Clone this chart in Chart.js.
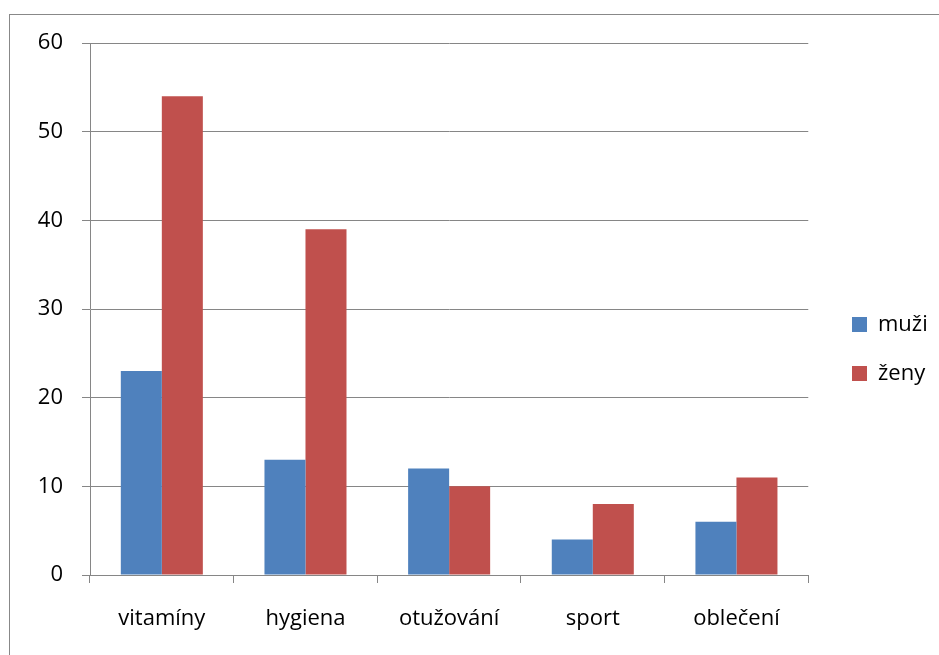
<!DOCTYPE html>
<html>
<head>
<meta charset="utf-8">
<script src="https://cdn.jsdelivr.net/npm/chart.js@4/dist/chart.umd.min.js"></script>
<style>
html, body { margin: 0; padding: 0; background: #fff; overflow: hidden; }
#frame { position: absolute; left: 9px; top: 14px; width: 1000px; height: 1000px; border: 1px solid #888; }
#wrap { position: absolute; left: 0; top: 0; width: 939px; height: 655px; }
</style>
</head>
<body>
<div id="frame"></div>
<div id="wrap"><canvas id="myChart"></canvas></div>
<script>
var categories = ['vitamíny', 'hygiena', 'otužování', 'sport', 'oblečení'];
var muzi = [23, 13, 12, 4, 6];
var zeny = [54, 39, 10, 8, 11];
var yTicks = [0, 10, 20, 30, 40, 50, 60];

var blue = '#4f81bd';
var red = '#c0504d';
var gridColor = '#868686';
var font = { family: 'Open Sans', size: 22 };

// push the legend a bit away from the plot
var legendShift = {
    id: 'legendShift',
    afterLayout: function(chart) {
        var dx = 852 - (chart.legend.left + chart.legend.options.labels.padding);
        chart.legend.left += dx;
        chart.legend.right += dx;
    }
};

var ctx = document.getElementById('myChart').getContext('2d');
var chart = new Chart(ctx, {
    type: 'bar',
    data: {
        labels: categories,
        datasets: [
            { label: 'muži', data: muzi, backgroundColor: blue },
            { label: 'ženy', data: zeny, backgroundColor: red }
        ]
    },
    plugins: [legendShift],
    options: {
        responsive: true,
        maintainAspectRatio: false,
        animation: false,
        layout: { padding: { top: 43, left: 0, right: 18, bottom: 0 } },
        datasets: { bar: { categoryPercentage: 0.571, barPercentage: 1 } },
        scales: {
            x: {
                offset: true,
                grid: { display: true, drawOnChartArea: false, offset: true, color: gridColor, tickLength: 8 },
                border: { color: gridColor },
                ticks: { color: '#000', font: font, padding: 23, maxRotation: 0 },
                afterFit: function(s) { s.height = 80; }
            },
            y: {
                min: 0,
                max: 60,
                afterBuildTicks: function(s) { s.ticks = yTicks.map(function(v) { return { value: v }; }); },
                grid: { color: gridColor, tickLength: 8 },
                border: { color: gridColor },
                ticks: { color: '#000', font: font, padding: 19 },
                afterFit: function(s) { s.width = 90; }
            }
        },
        plugins: {
            legend: {
                position: 'right',
                labels: { color: '#000', font: font, boxWidth: 15, boxHeight: 15, padding: 27 }
            },
            tooltip: { enabled: false }
        }
    }
});
</script>
</body>
</html>
